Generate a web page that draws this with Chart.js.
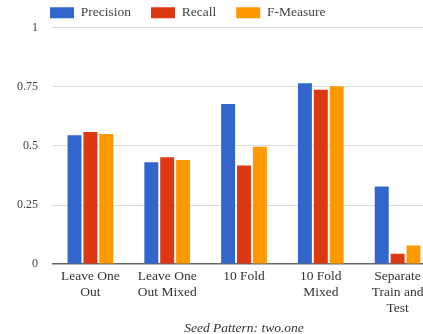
<!DOCTYPE html>
<html>
<head>
<meta charset="utf-8">
<script src="https://cdn.jsdelivr.net/npm/chart.js@4/dist/chart.umd.min.js"></script>
<style>
  html, body { margin: 0; padding: 0; background: #fff; overflow: hidden; }
  #wrap { width: 423px; height: 334px; overflow: hidden; }
  #box { width: 436px; height: 334px; }
</style>
</head>
<body>
<div id="wrap"><div id="box"><canvas id="chart"></canvas></div></div>
<script>
// categories and series
var categories = [
  ['Leave One', 'Out'],
  ['Leave One', 'Out Mixed'],
  ['10 Fold'],
  ['10 Fold', 'Mixed'],
  ['Separate', 'Train and', 'Test']
];
var precision = [0.545, 0.431, 0.677, 0.764, 0.328];
var recall    = [0.558, 0.452, 0.417, 0.737, 0.044];
var fMeasure  = [0.550, 0.440, 0.496, 0.752, 0.079];
var yTicks = [0, 0.25, 0.5, 0.75, 1];

var serif = '"Liberation Serif", "DejaVu Serif", serif';

// legend sits a bit left of the plot area in the original
var legendShift = {
  id: 'legendShift',
  afterLayout: function (chart) {
    if (chart.legend) {
      chart.legend.left -= 22;
      chart.legend.right -= 22;
      chart.legend.top += 2;
      chart.legend.bottom += 2;
    }
  }
};

new Chart(document.getElementById('chart'), {
  type: 'bar',
  data: {
    labels: categories,
    datasets: [
      { label: 'Precision', data: precision, backgroundColor: '#3366cc' },
      { label: 'Recall', data: recall, backgroundColor: '#dc3912' },
      { label: 'F-Measure', data: fMeasure, backgroundColor: '#ff9900' }
    ]
  },
  plugins: [legendShift],
  options: {
    responsive: true,
    maintainAspectRatio: false,
    animation: false,
    categoryPercentage: 0.62,
    barPercentage: 0.88,
    layout: { padding: { left: 3, top: -16, bottom: -3, right: 0 } },
    plugins: {
      legend: {
        position: 'top',
        align: 'start',
        fullSize: false,
        labels: {
          boxWidth: 24,
          boxHeight: 11,
          padding: 20,
          color: '#444',
          font: { family: serif, size: 13.5 }
        }
      },
      title: {
        display: true,
        position: 'bottom',
        fullSize: false,
        text: 'Seed Pattern: two.one',
        color: '#333',
        padding: { top: 0, bottom: 0 },
        font: { family: serif, size: 13.5, style: 'italic', weight: 'normal' }
      },
      tooltip: { enabled: false }
    },
    scales: {
      x: {
        grid: { display: false, drawTicks: false },
        border: { display: false },
        ticks: {
          color: '#333',
          font: { family: serif, size: 13.5, lineHeight: 1.2 },
          maxRotation: 0,
          autoSkip: false,
          padding: 4
        }
      },
      y: {
        min: 0,
        max: 1,
        afterBuildTicks: function (axis) {
          axis.ticks = yTicks.map(function (v) { return { value: v }; });
        },
        border: { display: false },
        grid: {
          drawTicks: false,
          color: function (ctx) { return ctx.tick && ctx.tick.value === 0 ? '#666' : '#ddd'; },
          lineWidth: function (ctx) { return ctx.tick && ctx.tick.value === 0 ? 1.5 : 1; }
        },
        ticks: {
          color: '#444',
          padding: 14,
          font: { family: serif, size: 12 },
          callback: function (v) { return String(v); }
        }
      }
    }
  }
});
</script>
</body>
</html>
